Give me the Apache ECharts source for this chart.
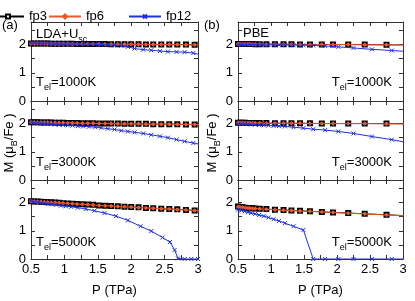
<!DOCTYPE html>
<html><head><meta charset="utf-8">
<script src="https://cdn.jsdelivr.net/npm/echarts@6/dist/echarts.min.js"></script>
<style>html,body{margin:0;padding:0;background:#fff}#c{width:415px;height:301px}</style>
</head><body><div id="c"></div>
<script>
// ---------- data ----------
const seriesNames = ['fp3', 'fp6', 'fp12'];
const panelTitles = ['LDA+U', 'PBE'];
const tempLabels = ['1000K', '3000K', '5000K'];
const xTicks = [0.5, 1, 1.5, 2, 2.5, 3];
const yTicks = [0, 1, 2];

// pressure grids (TPa)
const pLda = [0.5,0.55,0.6,0.65,0.7,0.75,0.8,0.86,0.92,0.98,1.05,1.12,1.19,1.27,1.35,1.43,1.52,1.61,1.7,1.8,1.9,2.0,2.11,2.22,2.33,2.45,2.57,2.69,2.82,2.95,3.08];
const pLda12 = [0.5,0.55,0.6,0.65,0.7,0.75,0.8,0.86,0.92,0.98,1.05,1.12,1.2,1.28,1.37,1.46,1.55,1.65,1.75,1.85,1.95,2.05,2.18,2.3,2.43,2.55,2.68,2.8,2.93,3.06];
const pLda12hot = [0.5,0.55,0.6,0.65,0.7,0.76,0.82,0.88,0.95,1.02,1.1,1.2,1.32,1.45,1.6,1.77,1.95,2.14,2.3,2.47,2.58,2.65,2.7,2.8,2.9,3.0];
const pPbe = [0.5,0.53,0.57,0.61,0.65,0.68,0.72,0.76,0.83,0.93,1.06,1.19,1.31,1.44,1.59,1.77,1.94,2.17,2.42,2.75,3.15];
const pPbe12 = [0.5,0.55,0.6,0.65,0.7,0.76,0.82,0.89,0.96,1.04,1.12,1.21,1.34,1.49,1.64,1.82,2.02,2.25,2.53,2.83,3.15];

// (a) LDA+Usc, magnetic moment (muB/Fe)
const ldaFp3_1000 = [2.04,2.04,2.04,2.04,2.04,2.04,2.03,2.03,2.03,2.03,2.03,2.03,2.02,2.02,2.02,2.02,2.02,2.02,2.01,2.01,2.01,2.01,2.01,2.00,2.00,2.00,2.00,2.00,2.00,1.99,1.99];
const ldaFp6_1000 = [2.04,2.04,2.04,2.04,2.04,2.03,2.03,2.03,2.03,2.03,2.03,2.02,2.02,2.02,2.02,2.02,2.02,2.01,2.01,2.01,2.01,2.01,2.00,2.00,2.00,2.00,2.00,2.00,1.99,1.99,1.99];
const ldaFp12_1000 = [2.05,2.05,2.04,2.04,2.04,2.04,2.03,2.03,2.03,2.03,2.02,2.02,2.02,2.02,2.01,2.01,2.00,1.99,1.98,1.96,1.92,1.86,1.82,1.80,1.77,1.75,1.74,1.73,1.70,1.63];
const ldaFp3_3000 = [2.05,2.05,2.05,2.04,2.04,2.04,2.04,2.03,2.03,2.03,2.02,2.02,2.02,2.01,2.01,2.01,2.00,2.00,2.00,2.00,1.99,1.99,1.99,1.99,1.98,1.98,1.98,1.98,1.97,1.97,1.97];
const ldaFp6_3000 = [2.05,2.05,2.04,2.04,2.04,2.04,2.03,2.03,2.03,2.03,2.02,2.02,2.02,2.01,2.01,2.01,2.00,2.00,2.00,1.99,1.99,1.99,1.99,1.98,1.98,1.98,1.98,1.97,1.97,1.97,1.97];
const ldaFp12_3000 = [2.04,2.03,2.02,2.01,2.00,1.99,1.98,1.97,1.96,1.95,1.94,1.93,1.91,1.90,1.89,1.87,1.85,1.82,1.79,1.75,1.72,1.69,1.65,1.60,1.55,1.50,1.43,1.37,1.31,1.25];
const ldaFp3_5000 = [2.05,2.04,2.04,2.03,2.02,2.01,2.01,2.00,1.99,1.98,1.97,1.96,1.95,1.94,1.93,1.92,1.90,1.89,1.88,1.87,1.85,1.84,1.83,1.81,1.80,1.78,1.77,1.76,1.74,1.72,1.71];
const ldaFp6_5000 = [2.05,2.04,2.03,2.03,2.02,2.01,2.00,2.00,1.99,1.98,1.97,1.96,1.95,1.94,1.93,1.91,1.90,1.89,1.88,1.86,1.85,1.84,1.82,1.81,1.80,1.78,1.77,1.75,1.74,1.72,1.70];
const ldaFp12_5000 = [2.05,2.03,2.01,1.99,1.98,1.96,1.94,1.92,1.89,1.87,1.85,1.82,1.77,1.71,1.63,1.52,1.37,1.16,0.99,0.76,0.60,0.32,0.02,0,0,0];

// (b) PBE
const pbeFp3_1000 = [2.02,2.02,2.02,2.02,2.02,2.02,2.02,2.01,2.01,2.01,2.01,2.01,2.01,2.00,2.00,2.00,2.00,2.00,2.00,1.99,1.99];
const pbeFp6_1000 = [2.02,2.02,2.02,2.02,2.02,2.02,2.01,2.01,2.01,2.01,2.01,2.01,2.01,2.00,2.00,2.00,2.00,2.00,1.99,1.99,1.99];
const pbeFp12_1000 = [2.00,2.00,2.00,2.00,2.00,2.00,2.00,1.99,1.99,1.99,1.99,1.99,1.98,1.98,1.97,1.95,1.92,1.88,1.83,1.79,1.74];
const pbeFp3_3000 = [2.03,2.03,2.03,2.03,2.02,2.02,2.02,2.02,2.02,2.02,2.01,2.01,2.01,2.01,2.01,2.00,2.00,2.00,2.00,2.00,1.99];
const pbeFp6_3000 = [2.03,2.03,2.03,2.02,2.02,2.02,2.02,2.02,2.02,2.01,2.01,2.01,2.01,2.01,2.00,2.00,2.00,2.00,2.00,1.99,1.99];
const pbeFp12_3000 = [2.00,1.99,1.99,1.98,1.97,1.96,1.95,1.94,1.93,1.92,1.91,1.90,1.87,1.84,1.80,1.77,1.72,1.65,1.54,1.43,1.29];
const pbeFp3_5000 = [1.86,1.84,1.83,1.82,1.81,1.80,1.80,1.79,1.78,1.77,1.75,1.74,1.72,1.71,1.69,1.67,1.65,1.63,1.60,1.57,1.52];
const pbeFp6_5000 = [1.85,1.84,1.83,1.82,1.81,1.80,1.79,1.79,1.78,1.76,1.75,1.73,1.72,1.70,1.69,1.67,1.65,1.62,1.60,1.56,1.52];
const pbeFp12_5000 = [1.75,1.72,1.69,1.66,1.63,1.60,1.56,1.52,1.47,1.41,1.35,1.27,1.16,1.03,0,0,0,0,0,0,0];

// ---------- layout / styles ----------
const F = 'Liberation Sans, Arial, Helvetica, sans-serif';
const colors = {fp3: '#000000', fp6: '#ee5528', fp12: '#1e2fe6'};
const axisColor = '#333';
const panels = [
  [ // column a
    [[pLda, ldaFp3_1000], [pLda, ldaFp6_1000], [pLda12, ldaFp12_1000]],
    [[pLda, ldaFp3_3000], [pLda, ldaFp6_3000], [pLda12, ldaFp12_3000]],
    [[pLda, ldaFp3_5000], [pLda, ldaFp6_5000], [pLda12hot, ldaFp12_5000]]
  ],
  [ // column b
    [[pPbe, pbeFp3_1000], [pPbe, pbeFp6_1000], [pPbe12, pbeFp12_1000]],
    [[pPbe, pbeFp3_3000], [pPbe, pbeFp6_3000], [pPbe12, pbeFp12_3000]],
    [[pPbe, pbeFp3_5000], [pPbe, pbeFp6_5000], [pPbe12, pbeFp12_5000]]
  ]
];
const colLeft = [31, 238], colWidth = [167, 165];
const rowTop = [22, 101, 180], rowH = 79;

const zip = (xs, ys) => ys.map((y, i) => [xs[i], y]);
const near = (v, arr) => arr.some(t => Math.abs(t - v) < 1e-6);

const grids = [], xAxes = [], yAxes = [], series = [];
let g = 0;
for (let c = 0; c < 2; c++) {
  for (let r = 0; r < 3; r++) {
    grids.push({left: colLeft[c], top: rowTop[r], width: colWidth[c], height: rowH});
    const common = {
      gridIndex: g, type: 'value',
      axisLine: {show: true, onZero: false, lineStyle: {color: axisColor, width: 1}},
      axisTick: {show: true, inside: true, length: 4, lineStyle: {color: axisColor}},
      splitLine: {show: false}
    };
    xAxes.push(Object.assign({}, common, {
      min: 0.5, max: 3, interval: 0.25, position: 'bottom',
      axisLabel: {show: r === 2, fontSize: 13, fontFamily: F, color: '#000', margin: 4,
        formatter: v => near(v, xTicks) ? String(v) : ''},
      name: r === 2 ? 'P (TPa)' : '', nameLocation: 'middle', nameGap: 25,
      nameTextStyle: {fontSize: 13, fontFamily: F, color: '#000'}
    }));
    xAxes.push(Object.assign({}, common, {
      min: 0.5, max: 3, interval: 0.25, position: 'top', axisLabel: {show: false}
    }));
    yAxes.push(Object.assign({}, common, {
      min: 0, max: 2.8, interval: 0.5, position: 'left',
      axisLabel: {fontSize: 13, fontFamily: F, color: '#000', margin: 5,
        formatter: v => near(v, yTicks) ? String(v) : ''}
    }));
    yAxes.push(Object.assign({}, common, {
      min: 0, max: 2.8, interval: 0.5, position: 'right', axisLabel: {show: false}
    }));
    const sets = panels[c][r];
    sets.forEach((s, k) => {
      const name = seriesNames[k];
      const base = {
        type: 'line', name, xAxisIndex: 2 * g, yAxisIndex: 2 * g,
        data: zip(s[0], s[1]), clip: true, animation: false,
        lineStyle: {color: colors[name], width: 1}
      };
      if (k === 0) Object.assign(base, {symbol: 'emptyRect', symbolSize: 4,
        itemStyle: {color: colors.fp3, borderColor: colors.fp3, borderWidth: 1}, z: 2});
      if (k === 1) Object.assign(base, {symbol: 'diamond', symbolSize: 4,
        itemStyle: {color: colors.fp6, borderColor: colors.fp6, borderWidth: 0.5}, z: 3});
      if (k === 2) Object.assign(base, {symbol: 'path://M0,0L10,10M10,0L0,10', symbolSize: 4,
        itemStyle: {color: colors.fp12, borderColor: colors.fp12, borderWidth: 1}, z: 4});
      series.push(base);
    });
    g++;
  }
}

const rich = {
  n: {fontSize: 13, fontFamily: F, color: '#000', lineHeight: 20},
  s: {fontSize: 9, fontFamily: F, color: '#000', lineHeight: 10, verticalAlign: 'bottom'}
};
const txt = (x, y, text, align, extra) => Object.assign({
  type: 'text', x, y, silent: true,
  style: {text, rich, align: align || 'left', verticalAlign: 'middle'}
}, extra || {});

const graphics = [
  txt(2, 25, '{n|(a)}'),
  txt(204, 25, '{n|(b)}'),
  txt(36, 34, '{n|' + panelTitles[0] + '}{s|sc}'),
  txt(243, 33, '{n|' + panelTitles[1] + '}'),
  txt(9, 143, '{n|M (μ}{s|B}{n|/Fe )}', 'center', {rotation: Math.PI / 2}),
  txt(212, 143, '{n|M (μ}{s|B}{n|/Fe )}', 'center', {rotation: Math.PI / 2})
];
const tY = [82, 162, 242];
tempLabels.forEach((t, r) => {
  graphics.push(txt(36, tY[r], '{n|T}{s|el}{n|=' + t + '}'));
  graphics.push(txt(392, tY[r], '{n|T}{s|el}{n|=' + t + '}', 'right'));
});

const legendBase = {top: 5, itemWidth: 32, itemHeight: 5, itemGap: 0,
  textStyle: {fontSize: 13, fontFamily: F, color: '#000'}, selectedMode: false};
const legends = [
  Object.assign({}, legendBase, {left: -14, data: ['fp3']}),
  Object.assign({}, legendBase, {left: 43, data: ['fp6']}),
  Object.assign({}, legendBase, {left: 123, data: ['fp12']})
];

const chart = echarts.init(document.getElementById('c'), null, {renderer: 'canvas'});
chart.setOption({
  animation: false,
  backgroundColor: '#fff',
  grid: grids, xAxis: xAxes, yAxis: yAxes, series,
  legend: legends, graphic: graphics
});
</script></body></html>
